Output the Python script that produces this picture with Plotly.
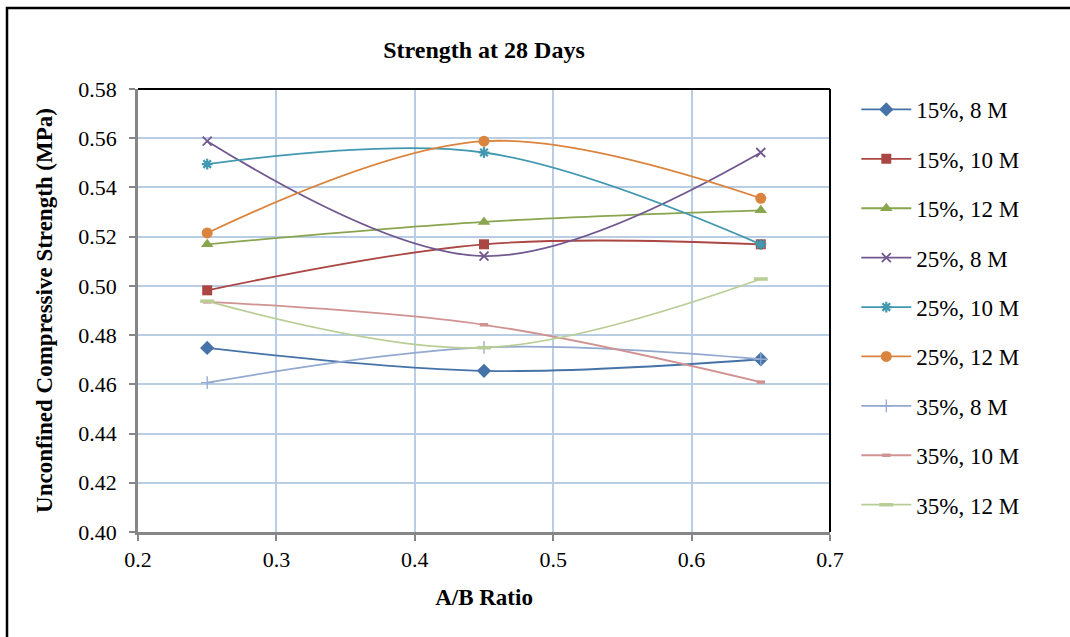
import plotly.graph_objects as go

ab_ratio = [0.25, 0.45, 0.65]

series_names = ["15%, 8 M", "15%, 10 M", "15%, 12 M",
                "25%, 8 M", "25%, 10 M", "25%, 12 M",
                "35%, 8 M", "35%, 10 M", "35%, 12 M"]

s15_8 = [0.4748, 0.4655, 0.4702]
s15_10 = [0.4982, 0.5169, 0.5169]
s15_12 = [0.5169, 0.5260, 0.5307]
s25_8 = [0.5588, 0.5121, 0.5542]
s25_10 = [0.5495, 0.5542, 0.5169]
s25_12 = [0.5215, 0.5588, 0.5356]
s35_8 = [0.4607, 0.4750, 0.4702]
s35_10 = [0.4935, 0.4842, 0.4609]
s35_12 = [0.4938, 0.4749, 0.5028]

series_values = [s15_8, s15_10, s15_12, s25_8, s25_10, s25_12, s35_8, s35_10, s35_12]

y_ticks = [0.40, 0.42, 0.44, 0.46, 0.48, 0.50, 0.52, 0.54, 0.56, 0.58]
x_ticks = [0.2, 0.3, 0.4, 0.5, 0.6, 0.7]

colors = ["#4572A7", "#AA4643", "#89A54E", "#71588F", "#4198AF",
          "#DB843D", "#93A9CF", "#D19392", "#B9CD96"]
symbols = ["diamond", "square", "triangle-up", "x-thin-open", "asterisk-open",
           "circle", "cross-thin-open", "line-ew-open", "line-ew-open"]
sizes = [11, 10, 11, 9, 9, 11, 9, 6, 10]
mwidths = [0, 0, 0, 1.8, 2.2, 0, 1.3, 3.5, 3.5]

FONT = "Liberation Serif, Times New Roman, serif"

fig = go.Figure()
for i, (name, vals) in enumerate(zip(series_names, series_values)):
    mk = dict(symbol=symbols[i], size=sizes[i], color=colors[i])
    if mwidths[i] > 0:
        mk["line"] = dict(color=colors[i], width=mwidths[i])
    fig.add_trace(go.Scatter(
        x=ab_ratio, y=vals, name=name, mode="lines+markers",
        line=dict(color=colors[i], width=1.8, shape="spline", smoothing=1.0),
        marker=mk, legendgroup=name,
    ))

# plot area width 692px, height 443px
pw, ph = 692.0, 443.0
fig.add_shape(type="rect", xref="paper", yref="paper",
              x0=(7 - 138) / pw, x1=(1080 - 138) / pw,
              y0=(532 - 650) / ph, y1=(532 - 8) / ph,
              line=dict(color="black", width=2.5), layer="above")
fig.add_shape(type="line", xref="paper", yref="paper",
              x0=0, x1=1, y0=1, y1=1, line=dict(color="black", width=2))
fig.add_shape(type="line", xref="paper", yref="paper",
              x0=1, x1=1, y0=0, y1=1, line=dict(color="black", width=2))

fig.update_layout(
    width=1070, height=637,
    margin=dict(l=138, r=240, t=89, b=105, autoexpand=False),
    paper_bgcolor="white", plot_bgcolor="white",
    font=dict(family=FONT, color="black", size=22),
    title=dict(text="<b>Strength at 28 Days</b>", x=484 / 1070, xanchor="center",
               y=1 - 50 / 637, yanchor="middle", font=dict(size=24, family=FONT)),
    legend=dict(x=1.038, xanchor="left", y=(532 - 88) / ph, yanchor="top",
                font=dict(size=23, family=FONT), tracegroupgap=16.5,
                itemwidth=50, bgcolor="rgba(0,0,0,0)", maxheight=600),
    showlegend=True,
)
fig.update_xaxes(
    range=[0.2, 0.7], tickvals=x_ticks, tickformat=".1f", automargin=False,
    showgrid=True, gridcolor="#B9CDE5", gridwidth=2,
    showline=True, linecolor="#868686", linewidth=2.5,
    ticks="outside", ticklen=6, tickcolor="#868686", tickwidth=2,
    tickfont=dict(size=22, family=FONT), zeroline=False,
    title=dict(text="<b>A/B Ratio</b>", font=dict(size=23, family=FONT), standoff=18),
)
fig.update_yaxes(
    range=[0.40, 0.58], tickvals=y_ticks, tickformat=".2f", automargin=False,
    showgrid=True, gridcolor="#B9CDE5", gridwidth=2,
    showline=True, linecolor="#868686", linewidth=2.5,
    ticks="outside", ticklen=6, tickcolor="#868686", tickwidth=2,
    tickfont=dict(size=22, family=FONT), zeroline=False, ticklabelstandoff=8,
    title=dict(text="<b>Unconfined Compressive Strength (MPa)</b>",
               font=dict(size=23, family=FONT), standoff=20),
)

fig.write_html("out.html")
